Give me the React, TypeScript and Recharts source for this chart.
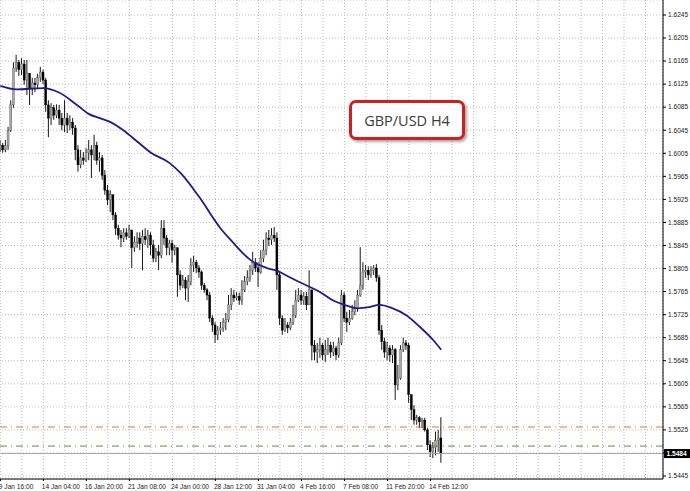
import React from 'react';
import { ComposedChart, Bar, Line, XAxis, YAxis, CartesianGrid, ReferenceLine } from 'recharts';

// ---- data (GBP/USD, H4 candles) ----
const firstOpen = 1.6014;
const closes = [
  1.6019, 1.6011, 1.6018, 1.6045, 1.6089, 1.6153, 1.6163, 1.6150, 1.6160, 1.6132,
  1.6144, 1.6118, 1.6127, 1.6124, 1.6136, 1.6146, 1.6132, 1.6089, 1.6066, 1.6084,
  1.6071, 1.6080, 1.6066, 1.6054, 1.6066, 1.6054, 1.6059, 1.6049, 1.6011, 1.5985,
  1.5997, 1.5993, 1.6006, 1.6011, 1.6002, 1.6019, 1.5993, 1.5997, 1.5967, 1.5941,
  1.5924, 1.5933, 1.5898, 1.5875, 1.5863, 1.5858, 1.5867, 1.5861, 1.5872, 1.5841,
  1.5851, 1.5858, 1.5848, 1.5861, 1.5855, 1.5863, 1.5846, 1.5823, 1.5834, 1.5828,
  1.5875, 1.5858, 1.5841, 1.5849, 1.5837, 1.5841, 1.5794, 1.5776, 1.5785, 1.5771,
  1.5782, 1.5811, 1.5816, 1.5806, 1.5799, 1.5776, 1.5768, 1.5759, 1.5719, 1.5707,
  1.5690, 1.5698, 1.5702, 1.5712, 1.5716, 1.5742, 1.5759, 1.5754, 1.5757, 1.5750,
  1.5768, 1.5782, 1.5789, 1.5802, 1.5816, 1.5806, 1.5799, 1.5823, 1.5837, 1.5858,
  1.5855, 1.5863, 1.5858, 1.5794, 1.5719, 1.5698, 1.5707, 1.5702, 1.5712, 1.5724,
  1.5750, 1.5759, 1.5750, 1.5757, 1.5742, 1.5768, 1.5672, 1.5660, 1.5664, 1.5672,
  1.5655, 1.5664, 1.5672, 1.5660, 1.5667, 1.5655, 1.5676, 1.5759, 1.5719, 1.5712,
  1.5719, 1.5730, 1.5736, 1.5759, 1.5776, 1.5799, 1.5802, 1.5794, 1.5802, 1.5806,
  1.5789, 1.5698, 1.5678, 1.5660, 1.5667, 1.5655, 1.5664, 1.5603, 1.5615, 1.5664,
  1.5676, 1.5672, 1.5586, 1.5560, 1.5542, 1.5546, 1.5539, 1.5542, 1.5525, 1.5499,
  1.5487, 1.5494, 1.5507, 1.5511, 1.5484,
];
const highs = [
  1.6028, 1.6023, 1.6028, 1.6051, 1.6097, 1.6163, 1.6176, 1.6167, 1.6170, 1.6167,
  1.6167, 1.6141, 1.6136, 1.6136, 1.6143, 1.6155, 1.6150, 1.6136, 1.6097, 1.6092,
  1.6089, 1.6090, 1.6089, 1.6075, 1.6097, 1.6075, 1.6071, 1.6066, 1.6054, 1.6019,
  1.6011, 1.6007, 1.6014, 1.6028, 1.6019, 1.6037, 1.6025, 1.6007, 1.6002, 1.5976,
  1.5950, 1.5941, 1.5933, 1.5903, 1.5881, 1.5872, 1.5875, 1.5875, 1.5881, 1.5868,
  1.5861, 1.5868, 1.5868, 1.5872, 1.5875, 1.5872, 1.5868, 1.5855, 1.5841, 1.5846,
  1.5889, 1.5889, 1.5863, 1.5855, 1.5855, 1.5846, 1.5841, 1.5802, 1.5794, 1.5790,
  1.5794, 1.5823, 1.5827, 1.5820, 1.5811, 1.5802, 1.5780, 1.5771, 1.5764, 1.5724,
  1.5712, 1.5705, 1.5712, 1.5719, 1.5728, 1.5759, 1.5771, 1.5768, 1.5764, 1.5763,
  1.5785, 1.5792, 1.5802, 1.5811, 1.5834, 1.5823, 1.5816, 1.5837, 1.5855, 1.5868,
  1.5872, 1.5875, 1.5877, 1.5868, 1.5799, 1.5724, 1.5719, 1.5712, 1.5719, 1.5742,
  1.5768, 1.5771, 1.5768, 1.5764, 1.5764, 1.5802, 1.5768, 1.5681, 1.5676, 1.5685,
  1.5676, 1.5681, 1.5685, 1.5678, 1.5678, 1.5671, 1.5685, 1.5768, 1.5764, 1.5730,
  1.5733, 1.5742, 1.5750, 1.5768, 1.5842, 1.5816, 1.5811, 1.5809, 1.5809, 1.5811,
  1.5813, 1.5794, 1.5707, 1.5685, 1.5678, 1.5672, 1.5672, 1.5667, 1.5638, 1.5672,
  1.5685, 1.5681, 1.5676, 1.5580, 1.5568, 1.5551, 1.5549, 1.5546, 1.5546, 1.5528,
  1.5507, 1.5504, 1.5522, 1.5525, 1.5547,
];
const lows = [
  1.6007, 1.6006, 1.6007, 1.6011, 1.6042, 1.6084, 1.6146, 1.6139, 1.6141, 1.6124,
  1.6106, 1.6089, 1.6106, 1.6111, 1.6118, 1.6129, 1.6125, 1.6077, 1.6033, 1.6054,
  1.6063, 1.6066, 1.6054, 1.6045, 1.6042, 1.6040, 1.6045, 1.6037, 1.5993, 1.5973,
  1.5979, 1.5985, 1.5990, 1.5993, 1.5962, 1.5993, 1.5985, 1.5973, 1.5959, 1.5933,
  1.5915, 1.5903, 1.5889, 1.5863, 1.5855, 1.5842, 1.5851, 1.5855, 1.5858, 1.5806,
  1.5834, 1.5841, 1.5837, 1.5802, 1.5846, 1.5841, 1.5828, 1.5816, 1.5816, 1.5802,
  1.5823, 1.5846, 1.5828, 1.5828, 1.5815, 1.5828, 1.5756, 1.5768, 1.5771, 1.5750,
  1.5747, 1.5776, 1.5799, 1.5797, 1.5789, 1.5768, 1.5763, 1.5750, 1.5712, 1.5695,
  1.5676, 1.5681, 1.5690, 1.5695, 1.5698, 1.5712, 1.5733, 1.5747, 1.5750, 1.5742,
  1.5742, 1.5764, 1.5776, 1.5782, 1.5794, 1.5799, 1.5773, 1.5796, 1.5816, 1.5828,
  1.5844, 1.5846, 1.5851, 1.5768, 1.5707, 1.5690, 1.5695, 1.5693, 1.5698, 1.5707,
  1.5719, 1.5747, 1.5742, 1.5742, 1.5733, 1.5742, 1.5646, 1.5646, 1.5641, 1.5650,
  1.5646, 1.5643, 1.5655, 1.5650, 1.5653, 1.5646, 1.5650, 1.5672, 1.5712, 1.5695,
  1.5707, 1.5716, 1.5724, 1.5730, 1.5756, 1.5768, 1.5789, 1.5785, 1.5789, 1.5794,
  1.5782, 1.5690, 1.5664, 1.5650, 1.5646, 1.5643, 1.5641, 1.5577, 1.5594, 1.5612,
  1.5660, 1.5664, 1.5572, 1.5542, 1.5534, 1.5534, 1.5528, 1.5528, 1.5522, 1.5490,
  1.5478, 1.5476, 1.5481, 1.5487, 1.5468,
];

// moving average, read at sample bars
const maIndex = [0, 6, 16, 22, 29, 33, 37, 41, 46, 51, 56, 63, 67, 74, 82, 86, 93, 99, 103, 108,
  111, 119, 124, 128, 133, 137, 141, 146, 151, 156, 161, 164];
const maValues = [1.6122, 1.6116, 1.6118, 1.6110, 1.6087, 1.6073, 1.6066, 1.6059, 1.6044, 1.6025,
  1.6006, 1.5988, 1.5971, 1.5929, 1.5874, 1.5853, 1.5820, 1.5806, 1.5801, 1.5789,
  1.5782, 1.5764, 1.5749, 1.5742, 1.5736, 1.5738, 1.5742, 1.5736, 1.5724, 1.5704, 1.5681, 1.5664];

const dateLabels = ['9 Jan 16:00', '14 Jan 04:00', '16 Jan 20:00', '21 Jan 08:00', '24 Jan 00:00',
  '28 Jan 12:00', '31 Jan 04:00', '4 Feb 16:00', '7 Feb 08:00', '11 Feb 20:00', '14 Feb 12:00'];
const BARS_PER_LABEL = 16;
const BARS_PER_GRID = 8;
const TOTAL_SLOTS = 247;

const yTicks = [1.5445, 1.5485, 1.5525, 1.5565, 1.5605, 1.5645, 1.5685, 1.5725, 1.5765, 1.5805,
  1.5845, 1.5885, 1.5925, 1.5965, 1.6005, 1.6045, 1.6085, 1.6125, 1.6165, 1.6205, 1.6245];
const yDomain = [1.54398, 1.6271];

const bidPrice = 1.5484;
const levelOrange = 1.5530;
const levelGreen = 1.5497;
const title = 'GBP/USD H4';

// ---- build table ----
const data: any[] = [];
for (let i = 0; i < TOTAL_SLOTS; i++) {
  const row: any = { i };
  if (i < closes.length) {
    const open = i === 0 ? firstOpen : closes[i - 1];
    const close = closes[i];
    const hi = Math.max(highs[i], open, close);
    const lo = Math.min(lows[i], open, close);
    row.open = open;
    row.close = close;
    row.range = [lo, hi];
  }
  const k = maIndex.indexOf(i);
  if (k >= 0) row.ma = maValues[k];
  data.push(row);
}
const xTicks: number[] = [];
for (let i = 0; i < TOTAL_SLOTS; i += BARS_PER_GRID) xTicks.push(i);

const FONT = '"Liberation Sans", Arial, sans-serif';

const Candle = (props: any) => {
  let { x, y, width, height, payload } = props;
  if (!payload || payload.range == null) return null;
  if (height < 0) { y += height; height = -height; }
  const [lo, hi] = payload.range;
  const span = hi - lo || 1e-9;
  const cx = x + width / 2;
  const toY = (v: number) => y + ((hi - v) / span) * height;
  const yo = toY(payload.open);
  const yc = toY(payload.close);
  const top = Math.min(yo, yc);
  const bh = Math.max(Math.abs(yc - yo), 1);
  const bear = payload.close < payload.open;
  return (
    <g>
      <line x1={cx} x2={cx} y1={y} y2={y + height} stroke="#1a1a1a" strokeWidth={1} />
      <rect x={cx - 1} y={top} width={2} height={bh} fill={bear ? '#000' : '#a9a9a9'}
        stroke={bear ? '#000' : '#555'} strokeWidth={0.4} />
    </g>
  );
};

const XTick = (props: any) => {
  const { x, y, payload } = props;
  const v = payload.value;
  if (v % BARS_PER_LABEL !== 0) return null;
  const label = dateLabels[v / BARS_PER_LABEL];
  if (!label) return null;
  return (
    <g>
      <line x1={x} x2={x} y1={y} y2={y + 2} stroke="#000" strokeWidth={1} />
      <text x={x - 1.5} y={y + 9.5} fontSize={6.6} fontFamily={FONT} fill="#222" textAnchor="start">
        {label}
      </text>
    </g>
  );
};

const YTick = (props: any) => {
  const { x, y, payload } = props;
  const v = payload.value;
  const hidden = Math.abs(v - bidPrice) < 0.0008;
  return (
    <g>
      <line x1={x} x2={x + 3} y1={y} y2={y} stroke="#000" strokeWidth={1} />
      {!hidden && (
        <text x={x + 5} y={y + 2.3} fontSize={6.6} fontFamily={FONT} fill="#222" textAnchor="start">
          {v.toFixed(4)}
        </text>
      )}
    </g>
  );
};

const BidTag = (props: any) => {
  const vb = props.viewBox || {};
  const x0 = (vb.x || 0) + (vb.width || 0) + 1;
  const yy = vb.y || 0;
  return (
    <g>
      <rect x={x0} y={yy - 4.5} width={26} height={9} fill="#000" />
      <text x={x0 + 2.5} y={yy + 2.4} fontSize={6.6} fontFamily={FONT} fill="#fff" fontWeight="bold">
        {bidPrice.toFixed(4)}
      </text>
    </g>
  );
};

export default function App() {
  return (
    <div style={{ position: 'absolute', left: 0, top: 0, width: 690, height: 491, background: '#fff', overflow: 'hidden' }}>
      <div style={{ position: 'absolute', left: -1, top: 0 }}>
        <ComposedChart width={691} height={491} data={data}
          margin={{ top: 0, right: 0, bottom: 0, left: 0 }} barCategoryGap={0} barGap={0}>
          <CartesianGrid stroke="#bcbcbc" strokeDasharray="1 2" />
          <XAxis dataKey="i" type="category" ticks={xTicks} interval={0} tick={<XTick />}
            tickLine={false} tickSize={0} tickMargin={0} height={12}
            axisLine={{ stroke: '#000', strokeWidth: 1 }} />
          <YAxis orientation="right" type="number" domain={yDomain} allowDataOverflow ticks={yTicks}
            interval={0} tick={<YTick />} tickLine={false} tickSize={0} tickMargin={0} width={27}
            axisLine={{ stroke: '#000', strokeWidth: 1 }} />
          <ReferenceLine y={levelOrange} stroke="#e2783a" strokeDasharray="7 4 1 4" strokeWidth={1.2} />
          <ReferenceLine y={levelGreen} stroke="#4f8f4f" strokeDasharray="7 4 1 4" strokeWidth={1} />
          <ReferenceLine y={bidPrice} stroke="#a8a8a8" strokeWidth={1} label={(p: any) => <BidTag {...p} />} />
          <Bar dataKey="range" shape={<Candle />} barSize={2} isAnimationActive={false} />
          <Line dataKey="ma" type="monotone" stroke="#1c1c8f" strokeWidth={1.8} dot={false} activeDot={false}
            strokeLinecap="butt" connectNulls isAnimationActive={false} />
        </ComposedChart>
      </div>
      <div style={{
        position: 'absolute', left: 349, top: 100, width: 116, height: 40, boxSizing: 'border-box',
        border: '3.5px solid #cf1f1f', borderRadius: 7, background: '#fff',
        boxShadow: '2px 2px 3px rgba(0,0,0,0.35)', display: 'flex', alignItems: 'center',
        justifyContent: 'center', fontFamily: '"Open Sans", sans-serif', fontSize: 14.5, color: '#3a3a3a',
      }}>
        {title}
      </div>
    </div>
  );
}
